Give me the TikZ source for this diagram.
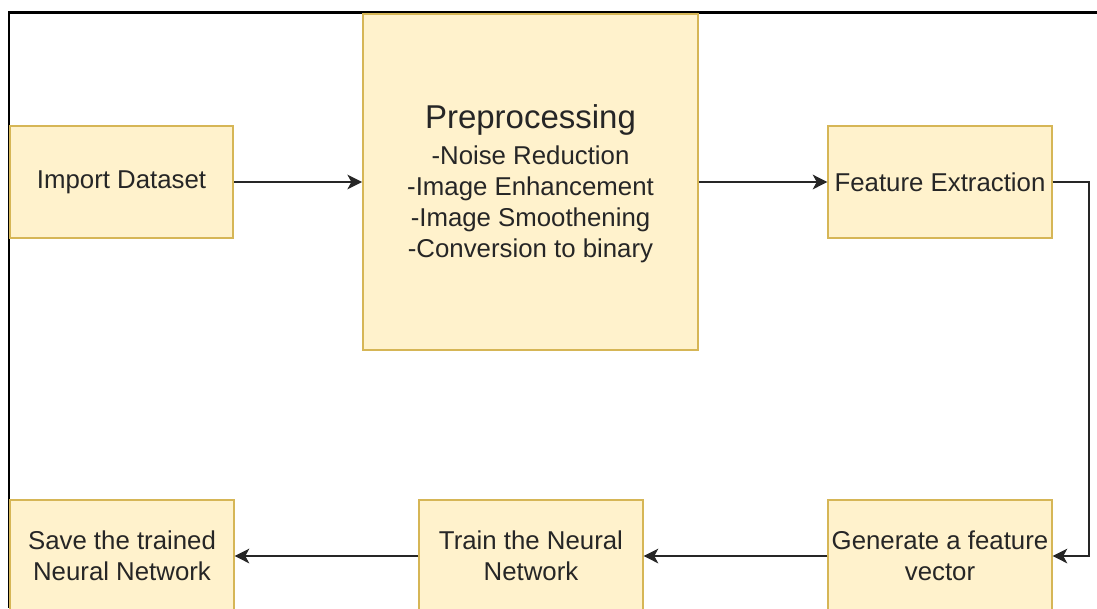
\documentclass[tikz,border=0pt]{standalone}
\usepackage{fontspec}
\setmainfont{Liberation Sans}
\usepackage{xcolor}
\usetikzlibrary{positioning,calc,arrows.meta}
\definecolor{boxfill}{HTML}{FFF2CC}
\definecolor{boxline}{HTML}{D6B656}

\begin{document}
\begin{tikzpicture}[x=0.75pt,y=-0.75pt,
  stepbox/.style={draw=boxline,fill=boxfill,line width=1.4pt,inner sep=0pt,
    minimum width=167.5pt,minimum height=84pt,align=center,text=black!85,
    font=\fontsize{19.35}{23.6}\selectfont},
  arr/.style={-{Stealth[length=11pt,width=11pt,inset=3pt]},line width=1.5pt,black!85}]
\useasboundingbox (0,0) rectangle (1097,608);
\clip (0,0) rectangle (1097,608);

% frame
\draw[line width=2pt] (1097,12.5) -- (9,12.5) -- (9,608);

% boxes
\node[stepbox] (imp) at (121.5,182) {Import Dataset};
\node[stepbox,minimum width=251.25pt,minimum height=252pt] (pre) at (530.5,182) {};
\node[stepbox] (feat) at (940,182) {Feature Extraction};
\node[stepbox] (gen) at (940,556) {Generate a feature\\vector};
\node[stepbox] (train) at (531,556) {Train the Neural\\Network};
\node[stepbox] (save) at (122,556) {Save the trained\\Neural Network};

% preprocessing text
\node[text=black!85,font=\fontsize{24.75}{30}\selectfont] (pretitle) at (530.5,120) {Preprocessing};
\node[align=center,inner sep=0pt,text=black!85,font=\fontsize{19.35}{23.25}\selectfont] (prelist) at (530.5,204)
  {-Noise Reduction\\-Image Enhancement\\-Image Smoothening\\-Conversion to binary};

% connectors
\draw[arr] (imp) -- (pre);
\draw[arr] (pre) -- (feat);
\draw[arr] (feat.east) -- ++(36,0) |- (gen.east);
\draw[arr] (gen) -- (train);
\draw[arr] (train) -- (save);
\end{tikzpicture}
\end{document}
